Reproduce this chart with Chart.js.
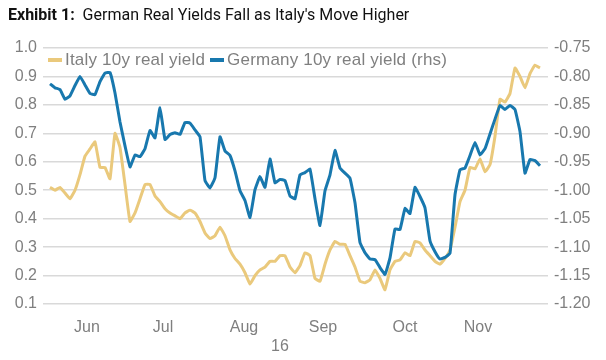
<!DOCTYPE html>
<html><head><meta charset="utf-8">
<script src="https://cdn.jsdelivr.net/npm/chart.js@4"></script>
<style>
html,body{margin:0;padding:0;background:#fff;}
#wrap{position:relative;width:606px;height:360px;overflow:hidden;}
canvas{position:absolute;left:0;top:0;}
#title{position:absolute;left:8px;top:5px;font-family:Roboto,"Liberation Sans",sans-serif;font-size:16px;color:#111;white-space:nowrap;}
#title b{font-weight:700;}
#legend{position:absolute;left:48px;top:50px;font-family:"Liberation Sans",Arial,sans-serif;font-size:17px;letter-spacing:0.2px;color:#7f7f7f;display:flex;align-items:center;white-space:nowrap;}
.item{display:flex;align-items:center;margin-right:5px;}
.sw{width:14px;height:4px;margin-right:3px;}
</style></head><body>
<div id="wrap">
<canvas id="c" width="606" height="360"></canvas>
<div id="title"><b>Exhibit 1:</b>&nbsp; German Real Yields Fall as Italy's Move Higher</div>
<div id="legend"></div>
</div>
<script>
// Trading-day index (late May .. late Nov 2016)
const days = [
  0,1,2,3,4,5,6,7,8,9,10,11,12,13,14,15,16,17,18,19,
  20,21,22,23,24,25,26,27,28,29,30,31,32,33,34,35,36,37,38,39,
  40,41,42,43,44,45,46,47,48,49,50,51,52,53,54,55,56,57,58,59,
  60,61,62,63,64,65,66,67,68,69,70,71,72,73,74,75,76,77,78,79,
  80,81,82,83,84,85,86,87,88,89,90,91,92,93,94,95,96,97,98
];
// Italy 10y real yield (lhs)
const italy = [
  0.51,0.50,0.51,0.49,0.47,0.50,0.555,0.62,0.645,0.67,
  0.58,0.58,0.54,0.70,0.65,0.52,0.39,0.42,0.47,0.52,
  0.52,0.48,0.46,0.435,0.42,0.41,0.40,0.42,0.43,0.42,
  0.39,0.35,0.33,0.34,0.37,0.34,0.29,0.26,0.24,0.21,
  0.17,0.20,0.22,0.23,0.25,0.25,0.27,0.27,0.23,0.21,
  0.235,0.28,0.27,0.19,0.18,0.24,0.29,0.32,0.31,0.31,
  0.27,0.23,0.18,0.175,0.185,0.22,0.19,0.15,0.22,0.25,
  0.255,0.28,0.27,0.32,0.315,0.29,0.27,0.25,0.24,0.26,
  0.29,0.37,0.46,0.50,0.58,0.575,0.61,0.565,0.59,0.69,
  0.82,0.81,0.84,0.93,0.90,0.86,0.91,0.94,0.93
];
// Germany 10y real yield (rhs)
const germany = [
  -0.813,-0.820,-0.823,-0.840,-0.834,-0.816,-0.800,-0.815,-0.830,-0.832,
  -0.809,-0.794,-0.793,-0.829,-0.880,-0.922,-0.959,-0.938,-0.941,-0.927,
  -0.895,-0.908,-0.855,-0.911,-0.902,-0.899,-0.902,-0.881,-0.882,-0.894,
  -0.906,-0.983,-0.996,-0.978,-0.906,-0.931,-0.939,-0.966,-1.001,-1.018,
  -1.048,-0.999,-0.976,-0.995,-0.945,-0.987,-0.981,-0.983,-1.010,-1.015,
  -0.973,-0.969,-0.963,-1.015,-1.062,-1.001,-0.973,-0.930,-0.961,-0.970,
  -0.979,-1.022,-1.092,-1.110,-1.121,-1.122,-1.136,-1.148,-1.119,-1.068,
  -1.069,-1.032,-1.041,-0.995,-1.011,-1.031,-1.089,-1.108,-1.121,-1.118,
  -1.111,-1.008,-0.964,-0.961,-0.939,-0.916,-0.938,-0.927,-0.901,-0.875,
  -0.851,-0.858,-0.851,-0.858,-0.897,-0.970,-0.946,-0.948,-0.957
];
// X axis: month labels (mid-month positions on the trading-day index) and year label
const xTickPos = [7.4, 22.6, 38.8, 46, 54.6, 71, 85.6];
const xTickLabels = ['Jun', 'Jul', 'Aug', ['', '16'], 'Sep', 'Oct', 'Nov'];
const seriesNames = ['Italy 10y real yield', 'Germany 10y real yield (rhs)'];

const ITALY_COLOR = '#EAC97C';
const GERMANY_COLOR = '#1878AE';
const TEXT = '#7f7f7f';
const FONT = '"Liberation Sans", Arial, sans-serif';

// HTML legend
const lg = document.getElementById('legend');
[[seriesNames[0], ITALY_COLOR], [seriesNames[1], GERMANY_COLOR]].forEach(([t, c]) => {
  const it = document.createElement('div'); it.className = 'item';
  const sw = document.createElement('div'); sw.className = 'sw'; sw.style.background = c;
  const tx = document.createElement('span'); tx.textContent = t;
  it.appendChild(sw); it.appendChild(tx); lg.appendChild(it);
});

new Chart(document.getElementById('c'), {
  type: 'line',
  data: {
    labels: days,
    datasets: [
      { label: seriesNames[0], data: italy, yAxisID: 'y', borderColor: ITALY_COLOR,
        borderWidth: 3, pointRadius: 0, tension: 0.1, fill: false, order: 1 },
      { label: seriesNames[1], data: germany, yAxisID: 'y2', borderColor: GERMANY_COLOR,
        borderWidth: 3, pointRadius: 0, tension: 0.1, fill: false, order: 0 }
    ]
  },
  options: {
    responsive: false, animation: false, devicePixelRatio: 1,
    layout: { padding: { top: 48, left: 0, right: 0, bottom: 0 } },
    plugins: { legend: { display: false }, tooltip: { enabled: false }, title: { display: false } },
    scales: {
      x: {
        type: 'linear', min: -1.4, max: 99.6,
        grid: { display: false }, border: { display: false },
        afterBuildTicks: s => { s.ticks = xTickPos.map(v => ({ value: v })); },
        afterFit: s => { s.height = 56; },
        ticks: { autoSkip: false, maxRotation: 0, padding: 6, color: TEXT,
          font: { family: FONT, size: 16, lineHeight: 1.2 },
          callback: (v, i) => xTickLabels[i] }
      },
      y: {
        position: 'left', min: 0.1, max: 1.0,
        grid: { color: '#d9d9d9', lineWidth: 1.5, drawTicks: false },
        border: { display: false },
        afterFit: s => { s.width = 43; },
        ticks: { stepSize: 0.1, padding: 6, color: TEXT, font: { family: FONT, size: 16 },
          callback: v => Number(v).toFixed(1) }
      },
      y2: {
        position: 'right', min: -1.2, max: -0.75,
        grid: { display: false, drawTicks: false },
        border: { display: false },
        afterFit: s => { s.width = 58; },
        ticks: { stepSize: 0.05, padding: 6, color: TEXT, font: { family: FONT, size: 16 },
          callback: v => Number(v).toFixed(2) }
      }
    }
  }
});
</script>
</body></html>
